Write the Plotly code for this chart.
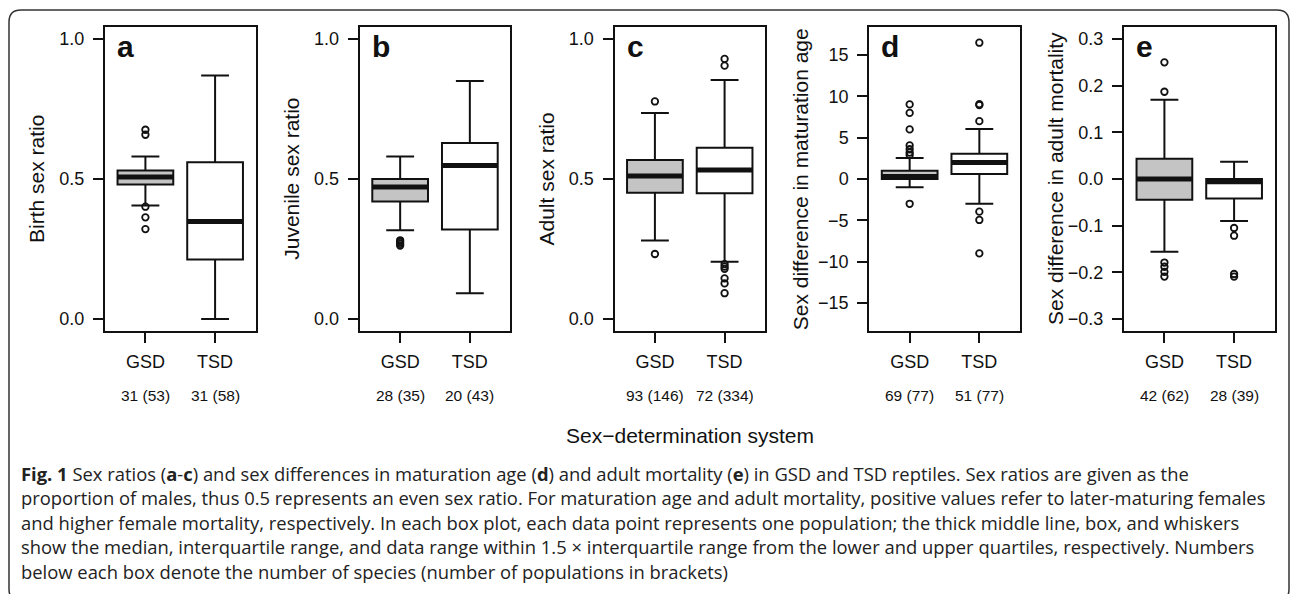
import plotly.graph_objects as go

W, H = 1290, 594

# ---------------- data ----------------
groups = ["GSD", "TSD"]
panel_letters = ["a", "b", "c", "d", "e"]
y_titles = ["Birth sex ratio", "Juvenile sex ratio", "Adult sex ratio",
            "Sex difference in maturation age", "Sex difference in adult mortality"]
counts = [["31 (53)", "31 (58)"], ["28 (35)", "20 (43)"], ["93 (146)", "72 (334)"],
          ["69 (77)", "51 (77)"], ["42 (62)", "28 (39)"]]

# box statistics per panel: [GSD, TSD]
lowerfence = [[0.405, 0.0], [0.317, 0.092], [0.28, 0.204], [-1.0, -3.0], [-0.156, -0.09]]
q1 = [[0.48, 0.212], [0.42, 0.32], [0.451, 0.449], [0.0, 0.6], [-0.0443, -0.042]]
median = [[0.507, 0.348], [0.471, 0.548], [0.511, 0.532], [0.3, 2.0], [0.0, -0.006]]
q3 = [[0.53, 0.56], [0.5, 0.629], [0.568, 0.612], [1.0, 3.06], [0.0436, 0.0]]
upperfence = [[0.58, 0.87], [0.58, 0.85], [0.736, 0.854], [2.54, 6.05], [0.17, 0.037]]

outliers = [
    [[0.676, 0.658, 0.401, 0.363, 0.321], []],
    [[0.281, 0.275, 0.268, 0.262], []],
    [[0.777, 0.232], [0.929, 0.905, 0.196, 0.187, 0.179, 0.145, 0.127, 0.092]],
    [[9.03, 8.0, 6.0, 4.07, 3.6, 3.2, 2.9, -3.0], [16.5, 9.05, 8.95, 7.0, -3.95, -4.96, -9.0]],
    [[0.25, 0.187, -0.179, -0.188, -0.199, -0.209], [-0.105, -0.1215, -0.2036, -0.209]],
]

y_ranges = [[-0.043, 1.043], [-0.043, 1.043], [-0.043, 1.043], [-18.4, 18.4], [-0.3257, 0.3257]]
y_ticks = [[0, 0.5, 1.0], [0, 0.5, 1.0], [0, 0.5, 1.0],
           [-15, -10, -5, 0, 5, 10, 15], [-0.3, -0.2, -0.1, 0.0, 0.1, 0.2, 0.3]]
y_formats = [".1f", ".1f", ".1f", "d", ".1f"]

fills = ["#c4c4c4", "#ffffff"]

x_title = "Sex\u2212determination system"
caption_lines = [
    "<b>Fig. 1</b> Sex ratios (<b>a</b>-<b>c</b>) and sex differences in maturation age (<b>d</b>) and adult mortality (<b>e</b>) in GSD and TSD reptiles. Sex ratios are given as the",
    "proportion of males, thus 0.5 represents an even sex ratio. For maturation age and adult mortality, positive values refer to later-maturing females",
    "and higher female mortality, respectively. In each box plot, each data point represents one population; the thick middle line, box, and whiskers",
    "show the median, interquartile range, and data range within 1.5 \u00d7 interquartile range from the lower and upper quartiles, respectively. Numbers",
    "below each box denote the number of species (number of populations in brackets)",
]

# ---------------- layout helpers ----------------
FONT = "Liberation Sans, Arial, Helvetica, sans-serif"
CAP_FONT = "Open Sans, Noto Sans, sans-serif"
PLOT_TOP, PLOT_BOT = 27, 331
PANEL_L0, PANEL_STEP, PANEL_W = 105, 254.75, 150.5


def px(x):
    return x / W


def py(y):
    return 1 - y / H


fig = go.Figure()
layout = dict(
    width=W, height=H,
    margin=dict(l=0, r=0, t=0, b=0, pad=0),
    paper_bgcolor="white", plot_bgcolor="white",
    showlegend=False, boxmode="overlay",
    font=dict(family=FONT, color="#111111"),
    annotations=[], shapes=[],
)

for i in range(5):
    sfx = "" if i == 0 else str(i + 1)
    xa, ya = "x" + sfx, "y" + sfx
    left = PANEL_L0 + PANEL_STEP * i
    right = left + PANEL_W
    for g in range(2):
        fig.add_trace(go.Box(
            x=[groups[g]], q1=[q1[i][g]], median=[median[i][g]], q3=[q3[i][g]],
            lowerfence=[lowerfence[i][g]], upperfence=[upperfence[i][g]],
            width=0.8, whiskerwidth=0.5, fillcolor=fills[g],
            line=dict(color="#111111", width=2), boxpoints=False,
            hoverinfo="skip", xaxis=xa, yaxis=ya,
        ))
        # thick median line
        m = median[i][g]
        fig.add_trace(go.Box(
            x=[groups[g]], q1=[m], median=[m], q3=[m], lowerfence=[m], upperfence=[m],
            width=0.8, whiskerwidth=0.0, fillcolor="rgba(0,0,0,0)",
            line=dict(color="#111111", width=5), boxpoints=False,
            hoverinfo="skip", xaxis=xa, yaxis=ya,
        ))
        if outliers[i][g]:
            fig.add_trace(go.Scatter(
                x=[groups[g]] * len(outliers[i][g]), y=outliers[i][g], mode="markers",
                marker=dict(symbol="circle-open", size=6.5, color="#111111",
                            line=dict(width=1.8, color="#111111")),
                hoverinfo="skip", xaxis=xa, yaxis=ya,
            ))
    layout["xaxis" + sfx] = dict(
        domain=[px(left), px(right)], anchor=ya,
        type="category", categoryorder="array", categoryarray=groups,
        range=[-0.58, 1.58], showgrid=False, zeroline=False,
        showline=True, mirror=True, linecolor="#111111", linewidth=2,
        ticks="outside", ticklen=10, tickwidth=2, tickcolor="#111111",
        tickfont=dict(size=18, family=FONT, color="#111111"),
        ticklabelstandoff=3, fixedrange=True,
    )
    layout["yaxis" + sfx] = dict(
        domain=[py(PLOT_BOT), py(PLOT_TOP)], anchor=xa,
        range=y_ranges[i], tickvals=y_ticks[i], tickformat=y_formats[i],
        showgrid=False, zeroline=False,
        showline=True, mirror=True, linecolor="#111111", linewidth=2,
        ticks="outside", ticklen=10, tickwidth=2, tickcolor="#111111",
        tickfont=dict(size=18, family=FONT, color="#111111"),
        ticklabelstandoff=5, fixedrange=True,
    )
    # y-axis title
    layout["annotations"].append(dict(
        text=y_titles[i], xref="paper", yref="paper",
        x=px(left - 69), y=py((PLOT_TOP + PLOT_BOT) / 2),
        xanchor="center", yanchor="middle", textangle=-90, showarrow=False,
        font=dict(size=21, family=FONT, color="#111111"),
    ))
    # panel letter
    layout["annotations"].append(dict(
        text="<b>" + panel_letters[i] + "</b>", xref="paper", yref="paper",
        x=px(left + 10), y=py(PLOT_TOP + 1), xanchor="left", yanchor="top",
        showarrow=False, font=dict(size=30, family=FONT, color="#111111"),
    ))
    # counts under the groups
    for g in range(2):
        layout["annotations"].append(dict(
            text=counts[i][g], xref=xa, yref="paper", x=groups[g], y=py(395),
            xanchor="center", yanchor="middle", showarrow=False,
            font=dict(size=15.5, family=FONT, color="#111111"),
        ))

# common x title
layout["annotations"].append(dict(
    text=x_title, xref="paper", yref="paper",
    x=px((PANEL_L0 + PANEL_L0 + PANEL_STEP * 4 + PANEL_W) / 2), y=py(435),
    xanchor="center", yanchor="middle", showarrow=False,
    font=dict(size=21, family=FONT, color="#111111"),
))

# caption lines
for k, line in enumerate(caption_lines):
    layout["annotations"].append(dict(
        text=line, xref="paper", yref="paper", x=px(19), y=py(473 + 24.5 * k),
        xanchor="left", yanchor="middle", showarrow=False, align="left",
        font=dict(size=18.4, family=CAP_FONT, color="#222222"),
    ))

# rounded frame
x0, x1 = px(9), px(1289)
yt, yb = py(10), py(601)
rx, ry = 12 / W, 12 / H
path = (f"M {x0},{yb + ry} L {x0},{yt - ry} Q {x0},{yt} {x0 + rx},{yt} "
        f"L {x1 - rx},{yt} Q {x1},{yt} {x1},{yt - ry} L {x1},{yb + ry} "
        f"Q {x1},{yb} {x1 - rx},{yb} L {x0 + rx},{yb} Q {x0},{yb} {x0},{yb + ry} Z")
layout["shapes"].append(dict(type="path", path=path, xref="paper", yref="paper",
                             line=dict(color="#333333", width=1.5),
                             fillcolor="rgba(0,0,0,0)", layer="below"))

fig.update_layout(**layout)
fig.write_html(
    "out.html",
    config={"displayModeBar": False},
    post_script="document.body.style.margin='0';document.body.style.overflow='hidden';",
)
